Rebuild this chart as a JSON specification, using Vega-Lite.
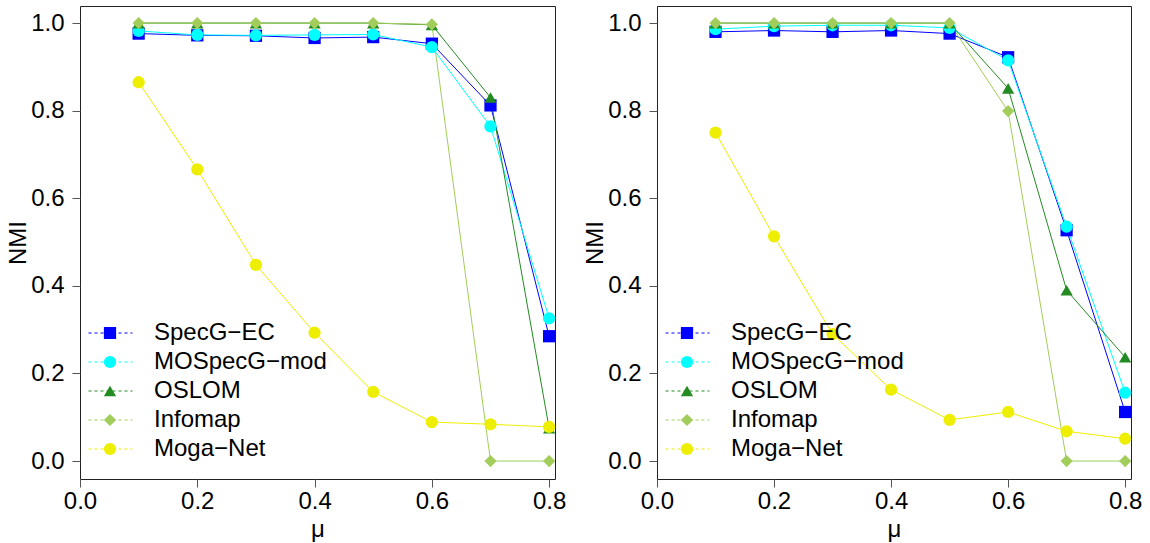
{
  "$schema": "https://vega.github.io/schema/vega-lite/v6.json",
  "padding": {"left": 6, "top": 5, "right": 5, "bottom": 5},
  "background": "white",
  "config": {
    "view": {"stroke": "#222", "strokeWidth": 1},
    "font": "Liberation Sans",
    "axis": {"labelFontSize": 24, "titleFontSize": 24, "titleFontWeight": "normal", "labelColor": "black", "titleColor": "black", "tickColor": "#555", "tickSize": 8, "domain": false, "grid": false, "labelFont": "Liberation Sans", "titleFont": "Liberation Sans", "labelFlush": false, "labelOverlap": false},
    "axisY": {"labelPadding": 8, "titlePadding": 0},
    "axisX": {"labelPadding": 2, "titlePadding": 4},
    "legend": {"labelFont": "Liberation Sans", "labelLimit": 0}
  },
  "datasets": {
    "nmi": [
      {"panel": "A", "method": "SpecG−EC", "mu": 0.1, "nmi": 0.976},
      {"panel": "A", "method": "SpecG−EC", "mu": 0.2, "nmi": 0.972},
      {"panel": "A", "method": "SpecG−EC", "mu": 0.3, "nmi": 0.971},
      {"panel": "A", "method": "SpecG−EC", "mu": 0.4, "nmi": 0.966},
      {"panel": "A", "method": "SpecG−EC", "mu": 0.5, "nmi": 0.968},
      {"panel": "A", "method": "SpecG−EC", "mu": 0.6, "nmi": 0.953},
      {"panel": "A", "method": "SpecG−EC", "mu": 0.7, "nmi": 0.812},
      {"panel": "A", "method": "SpecG−EC", "mu": 0.8, "nmi": 0.285},
      {"panel": "A", "method": "MOSpecG−mod", "mu": 0.1, "nmi": 0.982},
      {"panel": "A", "method": "MOSpecG−mod", "mu": 0.2, "nmi": 0.973},
      {"panel": "A", "method": "MOSpecG−mod", "mu": 0.3, "nmi": 0.972},
      {"panel": "A", "method": "MOSpecG−mod", "mu": 0.4, "nmi": 0.973},
      {"panel": "A", "method": "MOSpecG−mod", "mu": 0.5, "nmi": 0.974},
      {"panel": "A", "method": "MOSpecG−mod", "mu": 0.6, "nmi": 0.945},
      {"panel": "A", "method": "MOSpecG−mod", "mu": 0.7, "nmi": 0.764},
      {"panel": "A", "method": "MOSpecG−mod", "mu": 0.8, "nmi": 0.326},
      {"panel": "A", "method": "OSLOM", "mu": 0.1, "nmi": 1.0},
      {"panel": "A", "method": "OSLOM", "mu": 0.2, "nmi": 1.0},
      {"panel": "A", "method": "OSLOM", "mu": 0.3, "nmi": 1.0},
      {"panel": "A", "method": "OSLOM", "mu": 0.4, "nmi": 1.0},
      {"panel": "A", "method": "OSLOM", "mu": 0.5, "nmi": 1.0},
      {"panel": "A", "method": "OSLOM", "mu": 0.6, "nmi": 0.996},
      {"panel": "A", "method": "OSLOM", "mu": 0.7, "nmi": 0.83},
      {"panel": "A", "method": "OSLOM", "mu": 0.8, "nmi": 0.075},
      {"panel": "A", "method": "Infomap", "mu": 0.1, "nmi": 1.0},
      {"panel": "A", "method": "Infomap", "mu": 0.2, "nmi": 1.0},
      {"panel": "A", "method": "Infomap", "mu": 0.3, "nmi": 1.0},
      {"panel": "A", "method": "Infomap", "mu": 0.4, "nmi": 1.0},
      {"panel": "A", "method": "Infomap", "mu": 0.5, "nmi": 1.0},
      {"panel": "A", "method": "Infomap", "mu": 0.6, "nmi": 0.997},
      {"panel": "A", "method": "Infomap", "mu": 0.7, "nmi": 0.0},
      {"panel": "A", "method": "Infomap", "mu": 0.8, "nmi": 0.0},
      {"panel": "A", "method": "Moga−Net", "mu": 0.1, "nmi": 0.865},
      {"panel": "A", "method": "Moga−Net", "mu": 0.2, "nmi": 0.666},
      {"panel": "A", "method": "Moga−Net", "mu": 0.3, "nmi": 0.448},
      {"panel": "A", "method": "Moga−Net", "mu": 0.4, "nmi": 0.293},
      {"panel": "A", "method": "Moga−Net", "mu": 0.5, "nmi": 0.158},
      {"panel": "A", "method": "Moga−Net", "mu": 0.6, "nmi": 0.089},
      {"panel": "A", "method": "Moga−Net", "mu": 0.7, "nmi": 0.084},
      {"panel": "A", "method": "Moga−Net", "mu": 0.8, "nmi": 0.078},
      {"panel": "B", "method": "SpecG−EC", "mu": 0.1, "nmi": 0.98},
      {"panel": "B", "method": "SpecG−EC", "mu": 0.2, "nmi": 0.983},
      {"panel": "B", "method": "SpecG−EC", "mu": 0.3, "nmi": 0.98},
      {"panel": "B", "method": "SpecG−EC", "mu": 0.4, "nmi": 0.983},
      {"panel": "B", "method": "SpecG−EC", "mu": 0.5, "nmi": 0.976},
      {"panel": "B", "method": "SpecG−EC", "mu": 0.6, "nmi": 0.922},
      {"panel": "B", "method": "SpecG−EC", "mu": 0.7, "nmi": 0.527},
      {"panel": "B", "method": "SpecG−EC", "mu": 0.8, "nmi": 0.112},
      {"panel": "B", "method": "MOSpecG−mod", "mu": 0.1, "nmi": 0.986},
      {"panel": "B", "method": "MOSpecG−mod", "mu": 0.2, "nmi": 0.993},
      {"panel": "B", "method": "MOSpecG−mod", "mu": 0.3, "nmi": 0.995},
      {"panel": "B", "method": "MOSpecG−mod", "mu": 0.4, "nmi": 0.995},
      {"panel": "B", "method": "MOSpecG−mod", "mu": 0.5, "nmi": 0.989},
      {"panel": "B", "method": "MOSpecG−mod", "mu": 0.6, "nmi": 0.915},
      {"panel": "B", "method": "MOSpecG−mod", "mu": 0.7, "nmi": 0.535},
      {"panel": "B", "method": "MOSpecG−mod", "mu": 0.8, "nmi": 0.156},
      {"panel": "B", "method": "OSLOM", "mu": 0.1, "nmi": 1.0},
      {"panel": "B", "method": "OSLOM", "mu": 0.2, "nmi": 1.0},
      {"panel": "B", "method": "OSLOM", "mu": 0.3, "nmi": 1.0},
      {"panel": "B", "method": "OSLOM", "mu": 0.4, "nmi": 1.0},
      {"panel": "B", "method": "OSLOM", "mu": 0.5, "nmi": 1.0},
      {"panel": "B", "method": "OSLOM", "mu": 0.6, "nmi": 0.851},
      {"panel": "B", "method": "OSLOM", "mu": 0.7, "nmi": 0.39},
      {"panel": "B", "method": "OSLOM", "mu": 0.8, "nmi": 0.237},
      {"panel": "B", "method": "Infomap", "mu": 0.1, "nmi": 1.0},
      {"panel": "B", "method": "Infomap", "mu": 0.2, "nmi": 1.0},
      {"panel": "B", "method": "Infomap", "mu": 0.3, "nmi": 1.0},
      {"panel": "B", "method": "Infomap", "mu": 0.4, "nmi": 1.0},
      {"panel": "B", "method": "Infomap", "mu": 0.5, "nmi": 1.0},
      {"panel": "B", "method": "Infomap", "mu": 0.6, "nmi": 0.799},
      {"panel": "B", "method": "Infomap", "mu": 0.7, "nmi": 0.0},
      {"panel": "B", "method": "Infomap", "mu": 0.8, "nmi": 0.0},
      {"panel": "B", "method": "Moga−Net", "mu": 0.1, "nmi": 0.75},
      {"panel": "B", "method": "Moga−Net", "mu": 0.2, "nmi": 0.513},
      {"panel": "B", "method": "Moga−Net", "mu": 0.3, "nmi": 0.29},
      {"panel": "B", "method": "Moga−Net", "mu": 0.4, "nmi": 0.163},
      {"panel": "B", "method": "Moga−Net", "mu": 0.5, "nmi": 0.094},
      {"panel": "B", "method": "Moga−Net", "mu": 0.6, "nmi": 0.112},
      {"panel": "B", "method": "Moga−Net", "mu": 0.7, "nmi": 0.068},
      {"panel": "B", "method": "Moga−Net", "mu": 0.8, "nmi": 0.051}
    ]
  },
  "spacing": 16,
  "resolve": {"scale": {"stroke": "independent", "color": "independent", "shape": "independent"}},
  "hconcat": [
    {
      "width": 475, "height": 473,
      "data": {"name": "nmi"},
      "transform": [{"filter": "datum.panel == 'A'"}],
      "encoding": {
        "x": {"field": "mu", "type": "quantitative", "scale": {"domain": [0, 0.81], "nice": false, "zero": false}, "axis": {"values": [0, 0.2, 0.4, 0.6, 0.8], "format": ".1f", "title": "μ"}},
        "y": {"field": "nmi", "type": "quantitative", "scale": {"domain": [-0.041, 1.039], "nice": false}, "axis": {"values": [0, 0.2, 0.4, 0.6, 0.8, 1], "format": ".1f", "title": "NMI"}}
      },
      "layer": [
        {
          "mark": {"type": "line", "strokeWidth": 1},
          "encoding": {
            "stroke": {"field": "method", "type": "nominal", "sort": ["SpecG−EC", "MOSpecG−mod", "OSLOM", "Infomap", "Moga−Net"],
              "scale": {"range": ["#0000FF", "#00FFFF", "#228B22", "#A2CD5A", "#EEEE00"]},
              "legend": {"orient": "none", "legendX": 8, "legendY": 315, "title": null, "symbolType": "stroke", "symbolSize": 1936, "symbolStrokeWidth": 1, "symbolDash": [3, 3], "labelExpr": "' '", "labelOpacity": 0, "labelFontSize": 24, "clipHeight": 24, "rowPadding": 5, "padding": 0}}
          }
        },
        {
          "mark": {"type": "point", "filled": true, "opacity": 1, "size": 150, "strokeWidth": 0},
          "encoding": {
            "color": {"field": "method", "type": "nominal",
              "scale": {"domain": ["SpecG−EC", "MOSpecG−mod", "OSLOM", "Infomap", "Moga−Net"], "range": ["#0000FF", "#00FFFF", "#228B22", "#A2CD5A", "#EEEE00"]},
              "legend": {"orient": "none", "legendX": 18, "legendY": 315, "title": null, "symbolSize": 150, "symbolStrokeWidth": 0, "labelFontSize": 24, "labelOffset": 32, "clipHeight": 24, "rowPadding": 5, "padding": 0}},
            "shape": {"field": "method", "type": "nominal",
              "scale": {"domain": ["SpecG−EC", "MOSpecG−mod", "OSLOM", "Infomap", "Moga−Net"], "range": ["square", "circle", "triangle-up", "diamond", "circle"]},
              "legend": {"orient": "none", "legendX": 18, "legendY": 315, "title": null, "symbolSize": 150, "symbolStrokeWidth": 0, "labelFontSize": 24, "labelOffset": 32, "clipHeight": 24, "rowPadding": 5, "padding": 0}}
          }
        }
      ]
    },
    {
      "width": 474, "height": 473,
      "data": {"name": "nmi"},
      "transform": [{"filter": "datum.panel == 'B'"}],
      "encoding": {
        "x": {"field": "mu", "type": "quantitative", "scale": {"domain": [0, 0.81], "nice": false, "zero": false}, "axis": {"values": [0, 0.2, 0.4, 0.6, 0.8], "format": ".1f", "title": "μ"}},
        "y": {"field": "nmi", "type": "quantitative", "scale": {"domain": [-0.041, 1.039], "nice": false}, "axis": {"values": [0, 0.2, 0.4, 0.6, 0.8, 1], "format": ".1f", "title": "NMI"}}
      },
      "layer": [
        {
          "mark": {"type": "line", "strokeWidth": 1},
          "encoding": {
            "stroke": {"field": "method", "type": "nominal", "sort": ["SpecG−EC", "MOSpecG−mod", "OSLOM", "Infomap", "Moga−Net"],
              "scale": {"range": ["#0000FF", "#00FFFF", "#228B22", "#A2CD5A", "#EEEE00"]},
              "legend": {"orient": "none", "legendX": 8, "legendY": 315, "title": null, "symbolType": "stroke", "symbolSize": 1936, "symbolStrokeWidth": 1, "symbolDash": [3, 3], "labelExpr": "' '", "labelOpacity": 0, "labelFontSize": 24, "clipHeight": 24, "rowPadding": 5, "padding": 0}}
          }
        },
        {
          "mark": {"type": "point", "filled": true, "opacity": 1, "size": 150, "strokeWidth": 0},
          "encoding": {
            "color": {"field": "method", "type": "nominal",
              "scale": {"domain": ["SpecG−EC", "MOSpecG−mod", "OSLOM", "Infomap", "Moga−Net"], "range": ["#0000FF", "#00FFFF", "#228B22", "#A2CD5A", "#EEEE00"]},
              "legend": {"orient": "none", "legendX": 18, "legendY": 315, "title": null, "symbolSize": 150, "symbolStrokeWidth": 0, "labelFontSize": 24, "labelOffset": 32, "clipHeight": 24, "rowPadding": 5, "padding": 0}},
            "shape": {"field": "method", "type": "nominal",
              "scale": {"domain": ["SpecG−EC", "MOSpecG−mod", "OSLOM", "Infomap", "Moga−Net"], "range": ["square", "circle", "triangle-up", "diamond", "circle"]},
              "legend": {"orient": "none", "legendX": 18, "legendY": 315, "title": null, "symbolSize": 150, "symbolStrokeWidth": 0, "labelFontSize": 24, "labelOffset": 32, "clipHeight": 24, "rowPadding": 5, "padding": 0}}
          }
        }
      ]
    }
  ]
}
